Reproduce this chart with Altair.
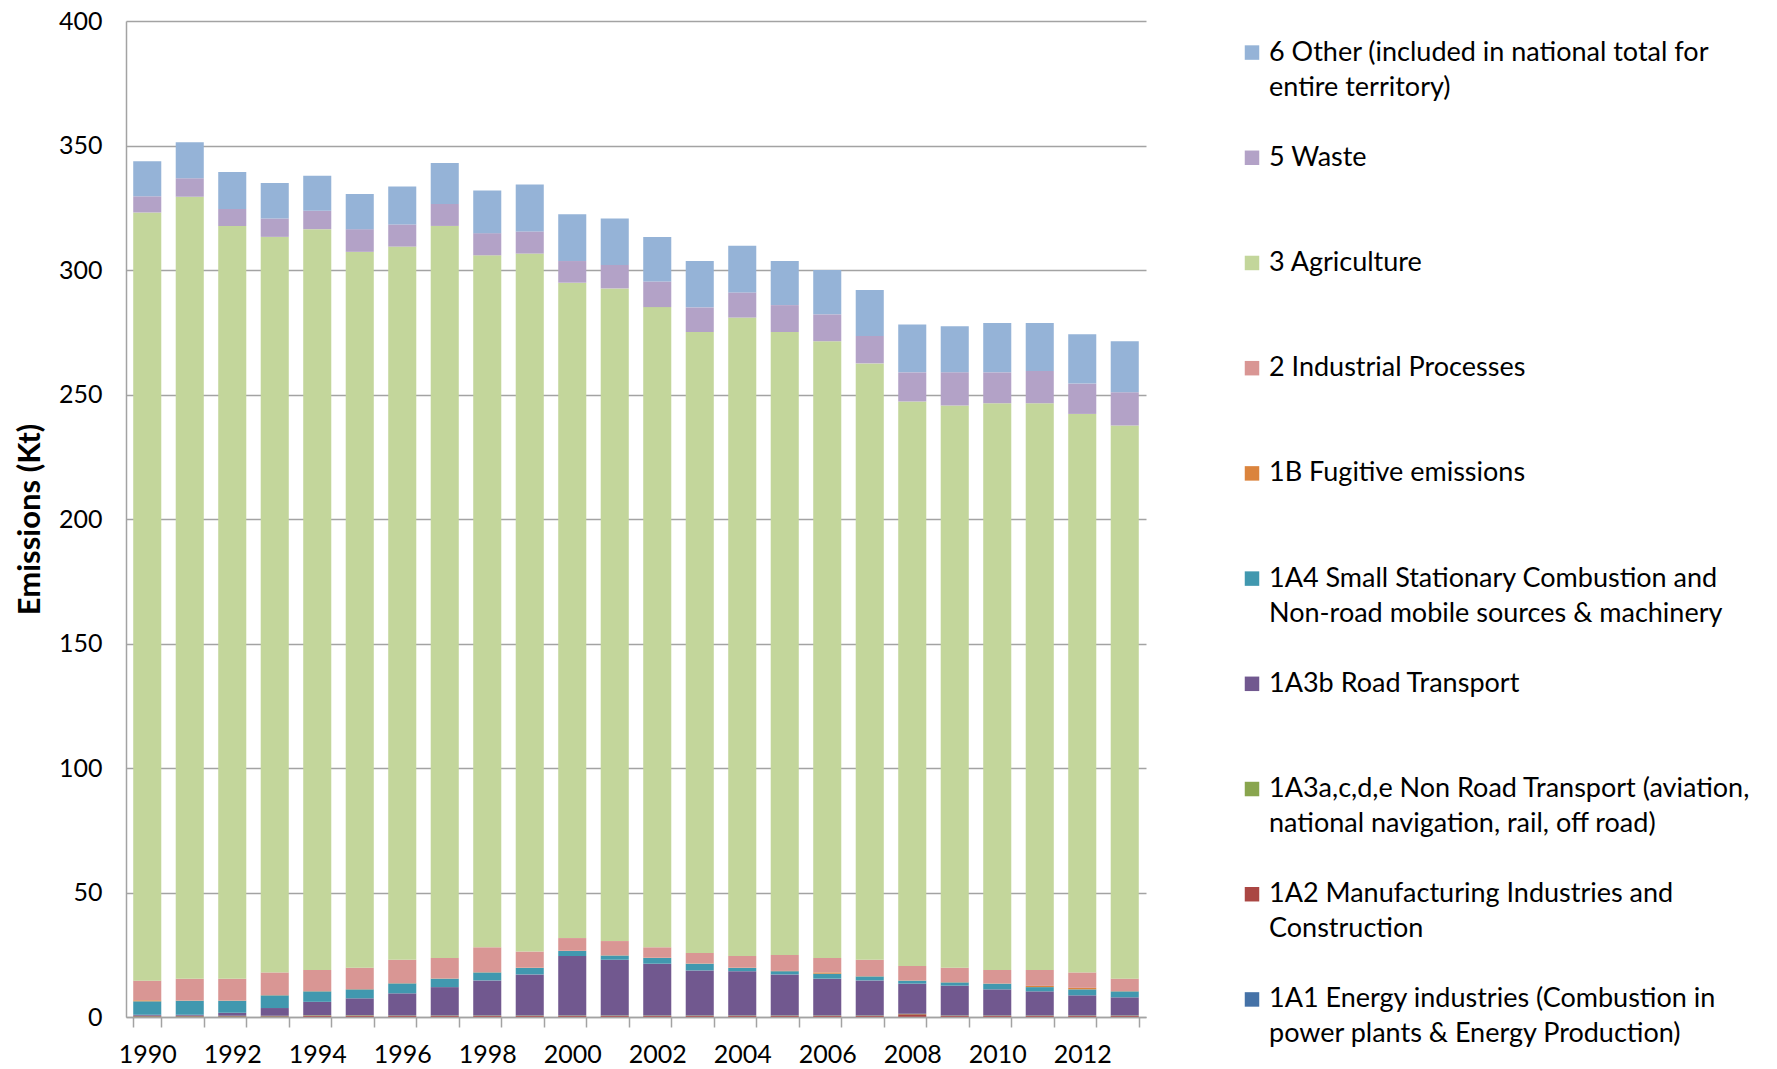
import altair as alt
import pandas as pd

years = [str(y) for y in range(1990, 2014)]

# stacking order: bottom -> top
categories = [
    "1A1 Energy industries",
    "1A2 Manufacturing Industries and Construction",
    "1A3a,c,d,e Non Road Transport",
    "1A3b Road Transport",
    "1A4 Small Stationary Combustion",
    "1B Fugitive emissions",
    "2 Industrial Processes",
    "3 Agriculture",
    "5 Waste",
    "6 Other",
]
colors = ["#4572A7", "#AA4643", "#89A54E", "#71588F", "#4198AF",
          "#DB843D", "#D99694", "#C3D69B", "#B3A2C7", "#95B3D7"]

legend_line1 = [
    "1A1 Energy industries (Combustion in",
    "1A2 Manufacturing Industries and",
    "1A3a,c,d,e Non Road Transport (aviation,",
    "1A3b Road Transport",
    "1A4 Small Stationary Combustion and",
    "1B Fugitive emissions",
    "2 Industrial Processes",
    "3 Agriculture",
    "5 Waste",
    "6 Other (included in national total for",
]
legend_line2 = [
    "power plants & Energy Production)",
    "Construction",
    "national navigation, rail, off road)",
    "",
    "Non-road mobile sources & machinery",
    "",
    "",
    "",
    "",
    "entire territory)",
]

energy_1A1 = [0.1, 0.1, 0.1, 0.1, 0.1, 0.1, 0.1, 0.1, 0.1, 0.1, 0.1, 0.1,
              0.1, 0.1, 0.1, 0.1, 0.1, 0.1, 0.1, 0.1, 0.1, 0.1, 0.1, 0.1]
manuf_1A2 = [0.2, 0.2, 0.2, 0.2, 0.4, 0.4, 0.3, 0.3, 0.3, 0.3, 0.3, 0.3,
             0.3, 0.3, 0.3, 0.3, 0.3, 0.3, 1.0, 0.3, 0.3, 0.3, 0.3, 0.3]
nonroad_1A3 = [0.2, 0.2, 0.2, 0.2, 0.2, 0.2, 0.2, 0.2, 0.2, 0.2, 0.2, 0.2,
               0.2, 0.2, 0.2, 0.2, 0.2, 0.2, 0.2, 0.2, 0.2, 0.2, 0.2, 0.2]
road_1A3b = [0.4, 0.4, 1.2, 3.1, 5.4, 6.8, 8.9, 11.4, 14.1, 16.5, 23.9, 22.4,
             20.8, 18.1, 17.8, 16.5, 14.8, 14.1, 12.1, 12.0, 10.5, 9.7, 8.1, 7.3]
small_1A4 = [5.4, 5.6, 4.8, 5.1, 4.2, 3.6, 4.0, 3.4, 3.2, 2.6, 2.0, 1.7,
             2.3, 2.7, 1.3, 1.3, 2.0, 1.6, 1.2, 1.3, 2.3, 1.7, 2.4, 2.4]
fugitive_1B = [0.4, 0.1, 0.1, 0.1, 0.1, 0.1, 0.1, 0.1, 0.1, 0.1, 0.1, 0.1,
               0.1, 0.1, 0.1, 0.1, 0.5, 0.1, 0.1, 0.1, 0.1, 0.5, 0.6, 0.1]
industrial_2 = [7.9, 8.8, 8.8, 9.1, 8.5, 8.6, 9.4, 8.2, 10.0, 6.5, 5.1, 5.7,
                4.2, 4.2, 4.7, 6.4, 5.8, 6.6, 5.8, 5.8, 5.4, 6.4, 6.2, 5.0]
agriculture_3 = [308.5, 314.0, 302.3, 295.4, 297.5, 287.5, 286.4, 294.0,
                 277.9, 280.3, 263.2, 262.1, 257.1, 249.4, 256.4, 250.2,
                 247.7, 239.5, 226.7, 225.8, 227.6, 227.6, 224.3, 222.2]
waste_5 = [6.5, 7.4, 6.8, 7.4, 7.4, 9.1, 8.9, 8.8, 8.9, 8.9, 8.7, 9.4,
           10.3, 9.9, 10.1, 10.8, 10.8, 11.0, 11.7, 13.3, 12.4, 12.9, 12.2, 13.3]
other_6 = [14.1, 14.5, 14.9, 14.2, 14.1, 14.1, 15.2, 16.5, 17.1, 18.8, 18.8, 18.7,
           17.9, 18.6, 18.7, 17.7, 17.8, 18.5, 19.2, 18.5, 19.8, 19.3, 19.8, 20.5]

series = [energy_1A1, manuf_1A2, nonroad_1A3, road_1A3b, small_1A4,
          fugitive_1B, industrial_2, agriculture_3, waste_5, other_6]

rows = []
for ci, (cat, vals) in enumerate(zip(categories, series)):
    for yr, v in zip(years, vals):
        rows.append({"year": yr, "category": cat, "value": v, "stack": ci})
df = pd.DataFrame(rows)

legend_df = pd.DataFrame({
    "category": categories,
    "line1": legend_line1,
    "line2": legend_line2,
})
legend_order = list(reversed(categories))

FONT = "Lato"
GRID = "#A3A3A3"

color_scale = alt.Scale(domain=categories, range=colors)

bars = alt.Chart(df).mark_bar().encode(
    x=alt.X(
        "year:O",
        scale=alt.Scale(paddingInner=0.34, paddingOuter=0.17),
        axis=alt.Axis(
            title=None,
            labelAngle=0,
            labelExpr="toNumber(datum.value) % 2 === 0 ? datum.label : ''",
            tickBand="extent",
            ticks=True,
            tickSize=10,
            tickColor=GRID,
            tickWidth=1.5,
            domainColor=GRID,
            domainWidth=1.5,
            labelPadding=15,
            labelFontSize=25,
            labelFont=FONT,
            labelColor="#000000",
            grid=False,
        ),
    ),
    y=alt.Y(
        "value:Q",
        stack="zero",
        scale=alt.Scale(domain=[0, 400], nice=False),
        axis=alt.Axis(
            values=[0, 50, 100, 150, 200, 250, 300, 350, 400],
            title="Emissions (Kt)",
            titleFont=FONT,
            titleFontSize=31,
            titleFontWeight="bold",
            titleColor="#000000",
            titlePadding=12,
            ticks=False,
            labelPadding=24,
            labelFontSize=25,
            labelFont=FONT,
            labelColor="#000000",
            domainColor=GRID,
            domainWidth=1.5,
            grid=True,
            gridColor=GRID,
            gridWidth=1.5,
        ),
    ),
    color=alt.Color("category:N", scale=color_scale, legend=None),
    order=alt.Order("stack:Q", sort="ascending"),
).properties(width=1020, height=996)

leg_base = alt.Chart(legend_df).encode(
    y=alt.Y("category:N", sort=legend_order, axis=None,
            scale=alt.Scale(type="point", padding=0.3)),
)
squares = leg_base.mark_square(size=210, opacity=1).encode(
    x=alt.value(8),
    color=alt.Color("category:N", scale=color_scale, legend=None),
)
text1 = leg_base.mark_text(align="left", baseline="middle", fontSize=27,
                           font=FONT, color="#000000").encode(
    x=alt.value(25), text="line1:N")
text2 = leg_base.mark_text(align="left", baseline="middle", fontSize=27,
                           font=FONT, color="#000000", dy=35).encode(
    x=alt.value(25), text="line2:N")
legend = alt.layer(squares, text1, text2).properties(width=500, height=1010)

chart = alt.hconcat(bars, legend, spacing=98).properties(
    padding={"left": 6, "top": 1, "right": 0, "bottom": 0}
).configure_view(stroke=None)

chart.save("out.html", embed_options={"renderer": "svg", "actions": False})
